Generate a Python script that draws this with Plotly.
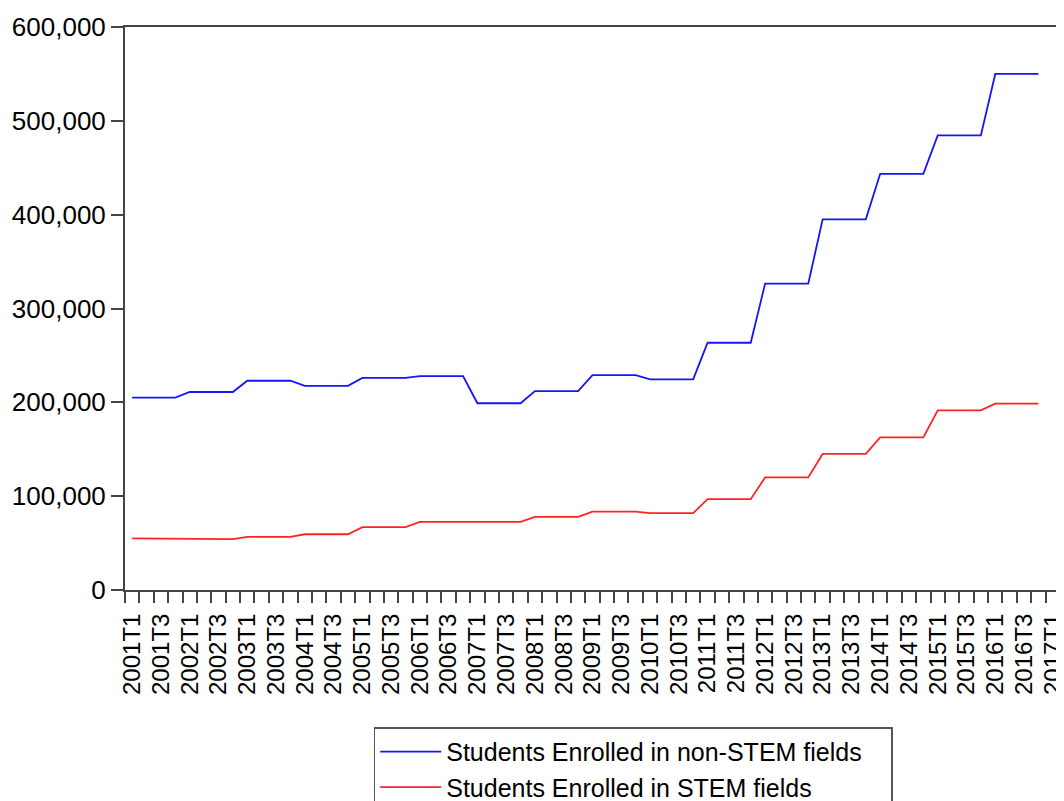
import plotly.graph_objects as go

# quarterly periods, 2001T1 .. 2017T1 (last one has no data)
periods = [f"{y}T{q}" for y in range(2001, 2018) for q in range(1, 5)][:65]

non_stem = [
    205000, 205000, 205000, 205000,  # 2001
    211000, 211000, 211000, 211000,  # 2002
    223000, 223000, 223000, 223000,  # 2003
    217500, 217500, 217500, 217500,  # 2004
    226000, 226000, 226000, 226000,  # 2005
    228000, 228000, 228000, 228000,  # 2006
    199000, 199000, 199000, 199000,  # 2007
    212000, 212000, 212000, 212000,  # 2008
    229000, 229000, 229000, 229000,  # 2009
    224500, 224500, 224500, 224500,  # 2010
    263500, 263500, 263500, 263500,  # 2011
    326500, 326500, 326500, 326500,  # 2012
    395000, 395000, 395000, 395000,  # 2013
    443500, 443500, 443500, 443500,  # 2014
    484500, 484500, 484500, 484500,  # 2015
    550000, 550000, 550000, 550000,  # 2016
]

stem = [
    55000, 55000, 55000, 55000,      # 2001
    54200, 54200, 54200, 54200,      # 2002
    56600, 56600, 56600, 56600,      # 2003
    59400, 59400, 59400, 59400,      # 2004
    67000, 67000, 67000, 67000,      # 2005
    72600, 72600, 72600, 72600,      # 2006
    72500, 72500, 72500, 72500,      # 2007
    78000, 78000, 78000, 78000,      # 2008
    83600, 83600, 83600, 83600,      # 2009
    82000, 82000, 82000, 82000,      # 2010
    96800, 96800, 96800, 96800,      # 2011
    120000, 120000, 120000, 120000,  # 2012
    145000, 145000, 145000, 145000,  # 2013
    162600, 162600, 162600, 162600,  # 2014
    191500, 191500, 191500, 191500,  # 2015
    198600, 198600, 198600, 198600,  # 2016
]

y_ticks = [0, 100000, 200000, 300000, 400000, 500000, 600000]

font = "Liberation Sans, Arial, sans-serif"
axis_col = "#444444"

x_idx = list(range(len(non_stem)))

fig = go.Figure()
fig.add_trace(go.Scatter(x=x_idx, y=non_stem, mode="lines",
                         name="Students Enrolled in non-STEM fields",
                         line=dict(color="#1414ff", width=1.8)))
fig.add_trace(go.Scatter(x=x_idx, y=stem, mode="lines",
                         name="Students Enrolled in STEM fields",
                         line=dict(color="#ff2424", width=1.8)))

fig.update_xaxes(
    range=[-0.5, len(periods) - 0.5],
    tickmode="array",
    tickvals=list(range(0, len(periods), 2)),
    ticktext=periods[::2],
    tickangle=-90,
    # invisible major ticks just push the labels down
    ticks="outside", ticklen=12, tickcolor="rgba(0,0,0,0)",
    ticklabeloverflow="allow",
    tickfont=dict(size=24, color="black"),
    minor=dict(tickmode="array",
               tickvals=[i - 0.5 for i in range(len(periods) + 1)],
               ticks="outside", ticklen=11, tickwidth=1.5, tickcolor=axis_col),
    showgrid=False, zeroline=False, automargin=False,
    showline=True, linecolor=axis_col, linewidth=2, mirror=True,
)
fig.update_yaxes(
    range=[0, 600000],
    tickmode="array",
    tickvals=y_ticks,
    tickformat=",",
    ticks="outside", ticklen=12, tickwidth=1.5, tickcolor=axis_col,
    tickfont=dict(size=26, color="black"),
    showgrid=False, zeroline=False, automargin=False,
    showline=True, linecolor=axis_col, linewidth=2, mirror=True,
)

# page body adds an 8px offset, so the figure is 8px smaller
fig.update_layout(
    width=1056, height=793,
    margin=dict(l=117, r=4, t=19, b=211, autoexpand=False),
    plot_bgcolor="white", paper_bgcolor="white",
    font=dict(family=font, color="black"),
    showlegend=True,
    # horizontal legend with wide entries wraps to two rows and gives a wider box
    legend=dict(orientation="h", x=0.266, y=-0.244, xanchor="left", yanchor="top",
                bordercolor="#555555", borderwidth=1.5,
                font=dict(size=25, color="black"),
                itemwidth=61, entrywidth=440, entrywidthmode="pixels",
                tracegroupgap=0),
)

fig.write_html("out.html")
